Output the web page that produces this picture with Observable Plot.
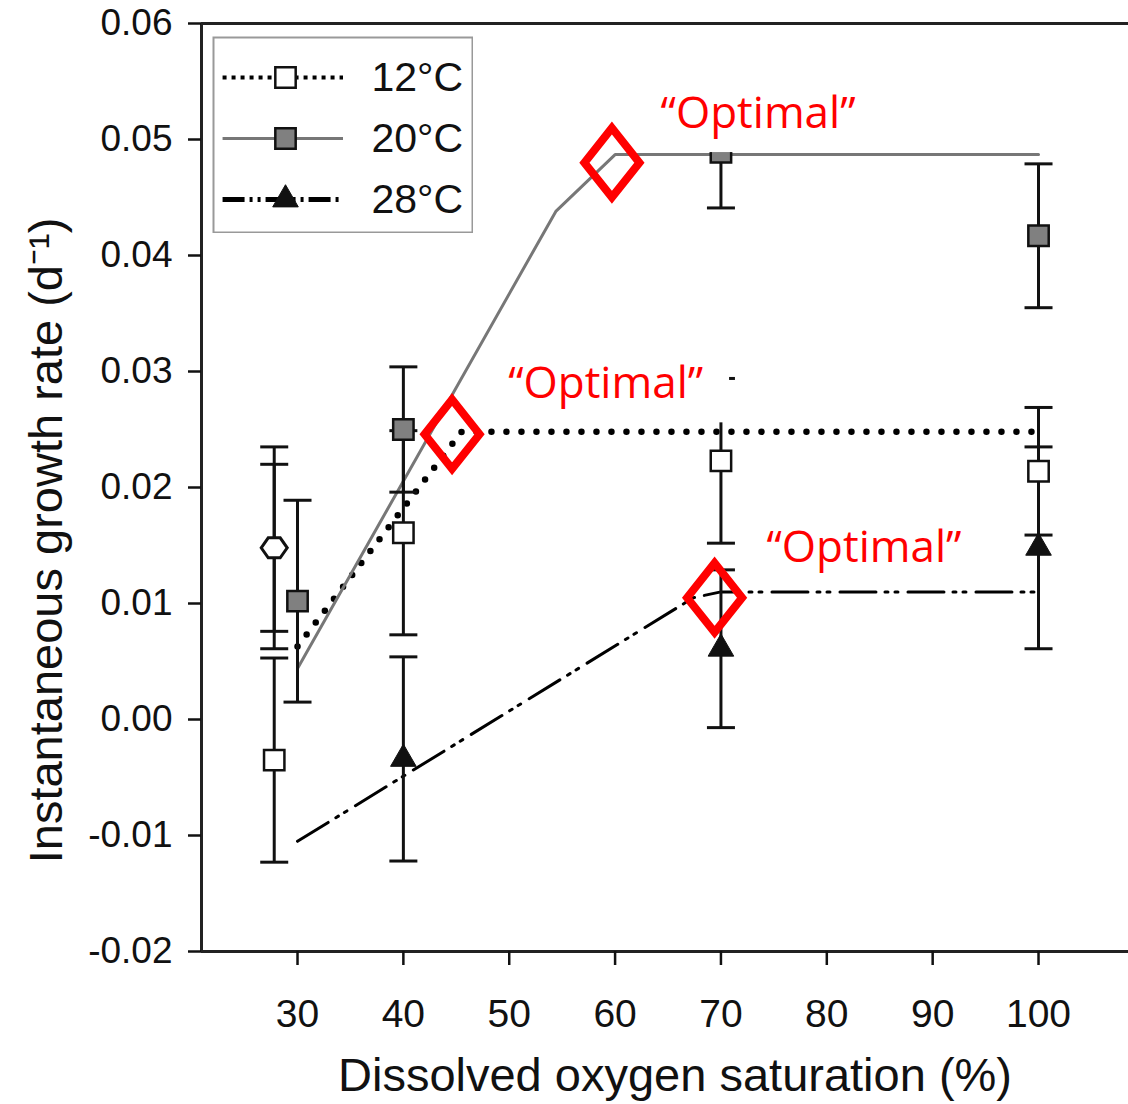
<!DOCTYPE html>
<html>
<head>
<meta charset="utf-8">
<script src="https://cdn.jsdelivr.net/npm/d3@7"></script>
<script src="https://cdn.jsdelivr.net/npm/@observablehq/plot@0.6"></script>
<style>
  html, body { margin: 0; padding: 0; background: #fff; }
  #chart { position: relative; width: 1128px; height: 1104px; }
  #legend { position: absolute; left: 212px; top: 36px; }
</style>
</head>
<body>
<div id="chart"><div id="legend"></div></div>
<script>
// Growth rate vs dissolved oxygen saturation at three temperatures

const seriesNames = ["12°C", "20°C", "28°C"];

// 12 °C — open squares, mean ± error
const obs12X = [27.8, 40, 70, 100];
const obs12Y = [-0.0035, 0.0161, 0.0223, 0.0214];
const obs12E = [0.0088, 0.0088, 0.0071, 0.0055];

// 20 °C — grey squares
const obs20X = [30, 40, 70, 100];
const obs20Y = [0.0102, 0.0250, 0.0489, 0.0417];
const obs20E = [0.0087, 0.0054, 0.0048, 0.0062];

// 28 °C — filled triangles
const obs28X = [40, 70, 100];
const obs28Y = [-0.0034, 0.0061, 0.0148];
const obs28E = [0.0088, 0.0068, 0.0087];

// overlapping open marker at the lowest oxygen level (two error ranges)
const hexX = [27.8, 27.8];
const hexY = [0.0148, 0.0148];
const hexE = [0.0087, 0.0072];

// broken-stick fits
const fit12X = [30, 45.5, 100];
const fit12Y = [0.0063, 0.0248, 0.0248];
const fit20X = [30, 54.4, 60, 100];
const fit20Y = [0.0044, 0.0438, 0.0487, 0.0487];
const fit28X = [30, 67.4, 70, 100];
const fit28Y = [-0.0105, 0.0105, 0.0110, 0.0110];

// "optimal" breakpoints and their callouts
const optX = [59.7, 44.6, 69.4];
const optY = [0.0480, 0.0246, 0.0105];
const calloutX = [64.3, 49.9, 74.3];
const calloutY = [0.0522, 0.0289, 0.0148];
const calloutText = "“Optimal”";

// axes
const xDomain = [20.93, 108.5];
const yDomain = [-0.02, 0.06];
const xTicks = [30, 40, 50, 60, 70, 80, 90, 100];
const yTicks = [-0.02, -0.01, 0, 0.01, 0.02, 0.03, 0.04, 0.05, 0.06];
const xTitle = "Dissolved oxygen saturation (%)";
const yTitle = "Instantaneous growth rate (d⁻¹)";

const rows = (xs, ys, es) => xs.map((x, i) => ({x, y: ys[i], e: es ? es[i] : 0}));

const d12 = rows(obs12X, obs12Y, obs12E);
const d20 = rows(obs20X, obs20Y, obs20E);
const d28 = rows(obs28X, obs28Y, obs28E);
const dHex = rows(hexX, hexY, hexE);
const allObs = [...d12, ...d20, ...d28, ...dHex];

// custom symbols
const capSymbol = {draw(ctx, size) { const r = Math.sqrt(size / Math.PI); ctx.moveTo(-r, 0); ctx.lineTo(r, 0); }};
const tallDiamond = {draw(ctx, size) {
  const r = Math.sqrt(size / Math.PI), h = r * 1.26;
  ctx.moveTo(0, -h); ctx.lineTo(r, 0); ctx.lineTo(0, h); ctx.lineTo(-r, 0); ctx.closePath();
}};
const flatHex = {draw(ctx, size) {
  const r = Math.sqrt(size / Math.PI);
  const w = r, v = r * 0.77, t = r * 0.46;
  ctx.moveTo(-w, 0); ctx.lineTo(-t, -v); ctx.lineTo(t, -v); ctx.lineTo(w, 0);
  ctx.lineTo(t, v); ctx.lineTo(-t, v); ctx.closePath();
}};

const style12 = {stroke: "#000", strokeWidth: 6.5, strokeDasharray: "0 15", strokeLinecap: "round"};
const style20 = {stroke: "#777", strokeWidth: 3};
const style28 = {stroke: "#000", strokeWidth: 3, strokeDasharray: "36 9 3 7 3 10"};

const plot = Plot.plot({
  width: 1128,
  height: 1104,
  marginLeft: 201,
  marginRight: 0,
  marginTop: 23,
  marginBottom: 153,
  x: {domain: xDomain},
  y: {domain: yDomain},
  style: {fontFamily: "'Liberation Sans', Arial, sans-serif", fontSize: "38px", color: "#111", background: "#fff", overflow: "visible"},
  marks: [
    // frame: left, top and bottom edges
    Plot.ruleX([xDomain[0]], {stroke: "#222", strokeWidth: 3}),
    Plot.ruleY(yDomain, {stroke: "#222", strokeWidth: 3}),
    Plot.axisX({ticks: xTicks, tickSize: 14, tickPadding: 34, strokeWidth: 2.5, label: null, fontSize: 39, tickFormat: d => String(d)}),
    Plot.axisY({ticks: yTicks, tickSize: 13, tickPadding: 16, strokeWidth: 2.5, label: null, fontSize: 37, tickFormat: d => d.toFixed(2)}),
    Plot.text([xTitle], {frameAnchor: "bottom", textAnchor: "middle", dy: 139, dx: 10, fontSize: 47, fill: "#111"}),
    Plot.text([yTitle], {frameAnchor: "left", textAnchor: "middle", rotate: -90, dx: -155, dy: 53, fontSize: 47, fill: "#111"}),

    // fitted lines
    Plot.line(rows(fit12X, fit12Y), {x: "x", y: "y", ...style12}),
    Plot.line(rows(fit20X, fit20Y), {x: "x", y: "y", ...style20}),
    Plot.line(rows(fit28X, fit28Y), {x: "x", y: "y", ...style28}),

    // error bars with caps
    Plot.ruleX(allObs, {x: "x", y1: d => d.y - d.e, y2: d => d.y + d.e, stroke: "#111", strokeWidth: 3}),
    Plot.dot(allObs, {x: "x", y: d => d.y - d.e, symbol: capSymbol, r: 14, stroke: "#111", strokeWidth: 3, fill: "none"}),
    Plot.dot(allObs, {x: "x", y: d => d.y + d.e, symbol: capSymbol, r: 14, stroke: "#111", strokeWidth: 3, fill: "none"}),

    // observations
    Plot.dot(dHex.slice(0, 1), {x: "x", y: "y", symbol: flatHex, r: 13, fill: "#fff", stroke: "#111", strokeWidth: 3}),
    Plot.dot(d12, {x: "x", y: "y", symbol: "square", r: 11.5, fill: "#fff", stroke: "#111", strokeWidth: 2.5}),
    Plot.dot(d20, {x: "x", y: "y", symbol: "square", r: 11.5, fill: "#808080", stroke: "#111", strokeWidth: 2.5}),
    Plot.dot(d28, {x: "x", y: "y", symbol: "triangle", r: 9.5, fill: "#111", stroke: "#111", strokeWidth: 1}),

    // optimum callouts
    Plot.text(rows(calloutX, calloutY), {x: "x", y: "y", text: () => calloutText, textAnchor: "start", fill: "#f00", fontFamily: "'Open Sans', 'Noto Sans', sans-serif", fontSize: 44}),
    Plot.dot(rows(optX, optY), {x: "x", y: "y", symbol: tallDiamond, r: 27.5, fill: "none", stroke: "#f00", strokeWidth: 8, strokeLinejoin: "miter"})
  ]
});

const chart = document.getElementById("chart");
chart.insertBefore(plot, chart.firstChild);

// white backing behind each callout label
(function () {
  const svgRect = plot.getBoundingClientRect();
  const labels = Array.from(plot.querySelectorAll("text")).filter(t => t.textContent === calloutText);
  if (!labels.length) return;
  const group = labels[0].parentNode;
  for (const t of labels) {
    const b = t.getBoundingClientRect();
    const rect = document.createElementNS("http://www.w3.org/2000/svg", "rect");
    rect.setAttribute("x", b.left - svgRect.left - 6);
    rect.setAttribute("y", b.top - svgRect.top - 2);
    rect.setAttribute("width", b.width + 6 + 26);
    rect.setAttribute("height", b.height + 2 + 11);
    rect.setAttribute("fill", "#fff");
    group.parentNode.insertBefore(rect, group);
  }
})();

// legend
const legendRows = seriesNames.map((name, i) => ({name, i}));
const legendLineStyles = [
  {stroke: "#000", strokeWidth: 4, strokeDasharray: "4 5"},
  {stroke: "#777", strokeWidth: 3},
  {stroke: "#000", strokeWidth: 5, strokeDasharray: "22 5 3 5 3 5"}
];
const legend = Plot.plot({
  width: 261,
  height: 197,
  margin: 1,
  x: {domain: [0, 1], axis: null},
  y: {type: "point", domain: seriesNames, range: [41, 163], padding: 0, axis: null},
  style: {fontFamily: "'Liberation Sans', Arial, sans-serif", background: "#fff"},
  marks: [
    Plot.frame({stroke: "#999", strokeWidth: 2}),
    ...legendRows.map(d => Plot.link([d], {x1: 0.035, x2: 0.5, y1: "name", y2: "name", ...legendLineStyles[d.i]})),
    Plot.dot([legendRows[0]], {x: 0.278, y: "name", symbol: "square", r: 11.5, fill: "#fff", stroke: "#111", strokeWidth: 2.5}),
    Plot.dot([legendRows[1]], {x: 0.278, y: "name", symbol: "square", r: 11.5, fill: "#808080", stroke: "#111", strokeWidth: 2.5}),
    Plot.dot([legendRows[2]], {x: 0.278, y: "name", symbol: "triangle", r: 9.5, fill: "#111", stroke: "#111", strokeWidth: 1}),
    Plot.text(legendRows, {x: 0.61, y: "name", text: "name", textAnchor: "start", fontSize: 41, fill: "#111"})
  ]
});
document.getElementById("legend").appendChild(legend);
</script>
</body>
</html>
